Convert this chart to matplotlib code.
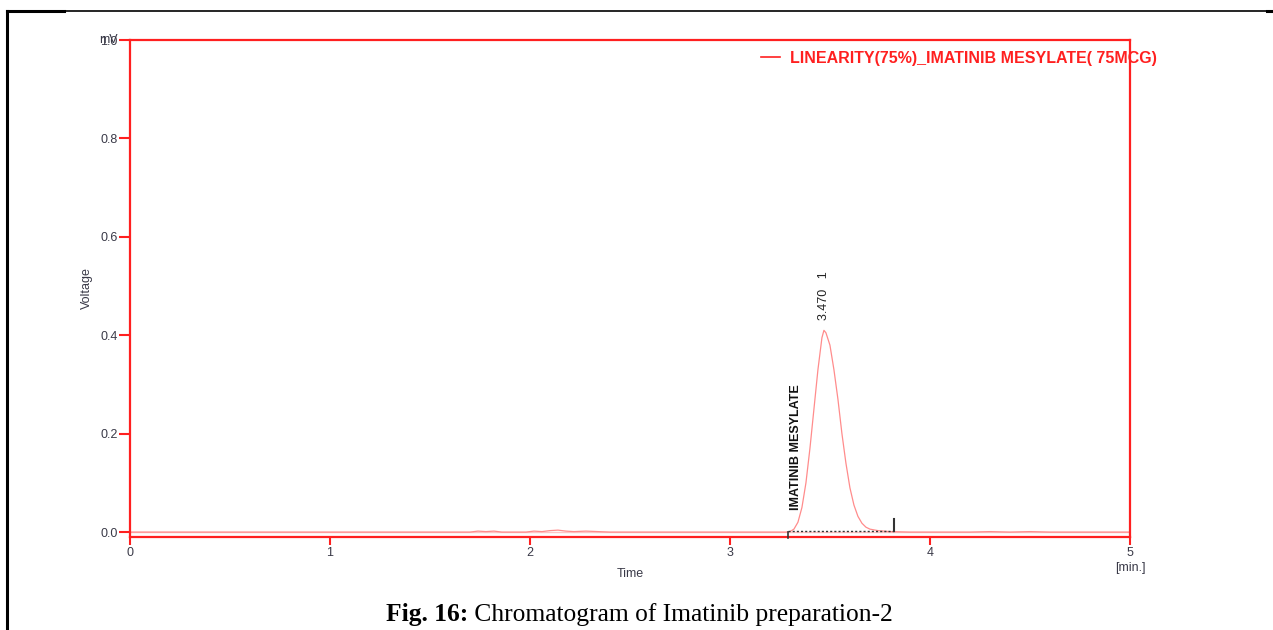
import numpy as np
import matplotlib.pyplot as plt
from matplotlib.lines import Line2D

#  Detector trace: flat baseline with small wiggles, one peak near 3.47 min
time_min = [0.00, 1.70, 1.74, 1.78, 1.82, 1.86, 1.98, 2.02, 2.06, 2.10,
            2.14, 2.18, 2.22, 2.28, 2.34, 2.40, 3.28, 3.30, 3.32, 3.34,
            3.36, 3.38, 3.40, 3.42, 3.44, 3.46, 3.47, 3.48, 3.50, 3.52,
            3.54, 3.56, 3.58, 3.60, 3.62, 3.64, 3.66, 3.68, 3.70, 3.74,
            3.80, 3.90, 4.20, 4.30, 4.40, 4.50, 4.60, 5.00]
voltage = [0.000, 0.000, 0.002, 0.001, 0.002, 0.000, 0.000, 0.002, 0.001, 0.003,
           0.004, 0.002, 0.001, 0.002, 0.001, 0.000, 0.000, 0.001, 0.006, 0.020,
           0.050, 0.100, 0.170, 0.250, 0.330, 0.395, 0.410, 0.405, 0.380, 0.330,
           0.270, 0.200, 0.140, 0.090, 0.055, 0.032, 0.018, 0.010, 0.006, 0.003,
           0.001, 0.000, 0.000, 0.001, 0.000, 0.001, 0.000, 0.000]

#  Integration baseline of the peak
peak_start = 3.29
peak_end = 3.82
peak_rt = 3.470
peak_height = 0.41
peak_name = 'IMATINIB MESYLATE'

x_ticks = [0, 1, 2, 3, 4, 5]
y_ticks = [0.0, 0.2, 0.4, 0.6, 0.8, 1.0]

red = '#ff2020'
ink = '#3a3a48'

fig = plt.figure(figsize=(12.73, 6.30), dpi=100)
ax = fig.add_axes([0.1021, 0.1476, 0.7855, 0.7889])

ax.axhline(0.0, color='#ffc4c4', lw=1.0, zorder=1)
ax.plot(time_min, voltage, color='#ff8c8c', lw=0.9, zorder=2,
        label='LINEARITY(75%)_IMATINIB MESYLATE( 75MCG)')

#  Integration baseline and its start/end marks
ax.plot([peak_start, peak_end], [0.002, 0.002], color='#333333', lw=1.0,
        ls=(0, (1.5, 1.5)), zorder=3)
ax.plot([peak_start, peak_start], [0.001, -0.012], color='#333333', lw=1.2,
        clip_on=False, zorder=3)
ax.plot([peak_end, peak_end], [0.002, 0.026], color='#333333', lw=1.5, zorder=3)

#  Peak annotations
ax.text(peak_rt, peak_height + 0.02, '%.3f   1' % peak_rt, rotation=90,
        ha='center', va='bottom', fontsize=9, color='#222222',
        family='Liberation Sans')
ax.text(3.33, 0.045, peak_name, rotation=90, ha='center', va='bottom',
        fontsize=9, color='#111111', family='Liberation Sans',
        fontweight='bold', fontstretch='condensed')

ax.set_xlim(0, 5)
ax.set_ylim(-0.01, 1.0)
ax.set_xticks(x_ticks)
ax.set_xticklabels([str(t) for t in x_ticks])
ax.set_yticks(y_ticks)
ax.set_yticklabels(['%.1f' % v for v in y_ticks])
ax.tick_params(axis='both', colors=red, labelcolor=ink, labelsize=9,
               direction='out', width=1.5)
ax.tick_params(axis='y', length=8, pad=1)
ax.tick_params(axis='x', length=6, pad=1)
for lab in ax.get_xticklabels() + ax.get_yticklabels():
    lab.set_family('Liberation Sans')

for side in ['left', 'right', 'top', 'bottom']:
    ax.spines[side].set_color(red)
    ax.spines[side].set_linewidth(1.6)

#  Unit on top of the y axis, overprinting the 1.0 label
ax.text(-0.022, 1.0, 'mV', transform=ax.get_yaxis_transform(), ha='center',
        va='center', fontsize=9, color=ink, family='Liberation Sans')

ax.set_xlabel('Time', fontsize=9, color=ink, family='Liberation Sans',
              labelpad=7)
ax.set_ylabel('Voltage', fontsize=9, color=ink, family='Liberation Sans',
              labelpad=5)
ax.text(5.0, -0.073, '[min.]', ha='center', va='center', fontsize=9,
        color=ink, family='Liberation Sans')

leg = ax.legend(loc='upper right', bbox_to_anchor=(1.041, 1.007), frameon=False,
                handlelength=1.2, handletextpad=0.6,
                prop={'family': 'Liberation Sans', 'weight': 'bold', 'size': 11.5})
for t in leg.get_texts():
    t.set_color(red)
for h in leg.get_lines():
    h.set_color(red)
    h.set_linewidth(1.2)

#  Table cell borders around the figure
fig.add_artist(Line2D([0.0055, 0.0055], [0.0, 0.983], color='black', lw=2.2))
fig.add_artist(Line2D([0.0055, 1.0], [0.982, 0.982], color='black', lw=1.2))
fig.add_artist(Line2D([0.0055, 0.05], [0.982, 0.982], color='black', lw=2.2))
fig.add_artist(Line2D([0.995, 1.0], [0.982, 0.982], color='black', lw=2.2))

#  Caption: bold figure number followed by the plain title
cap = fig.text(0.3033, 0.006, 'Fig. 16:', ha='left', va='bottom', fontsize=18.4,
               fontweight='bold', family='Liberation Serif')
ax.annotate(' Chromatogram of Imatinib preparation-2', xy=(1, 0),
            xycoords=cap, xytext=(0, 0), textcoords='offset points',
            ha='left', va='bottom', fontsize=18.4, family='Liberation Serif',
            annotation_clip=False)

fig.savefig('out.png', dpi=100)
